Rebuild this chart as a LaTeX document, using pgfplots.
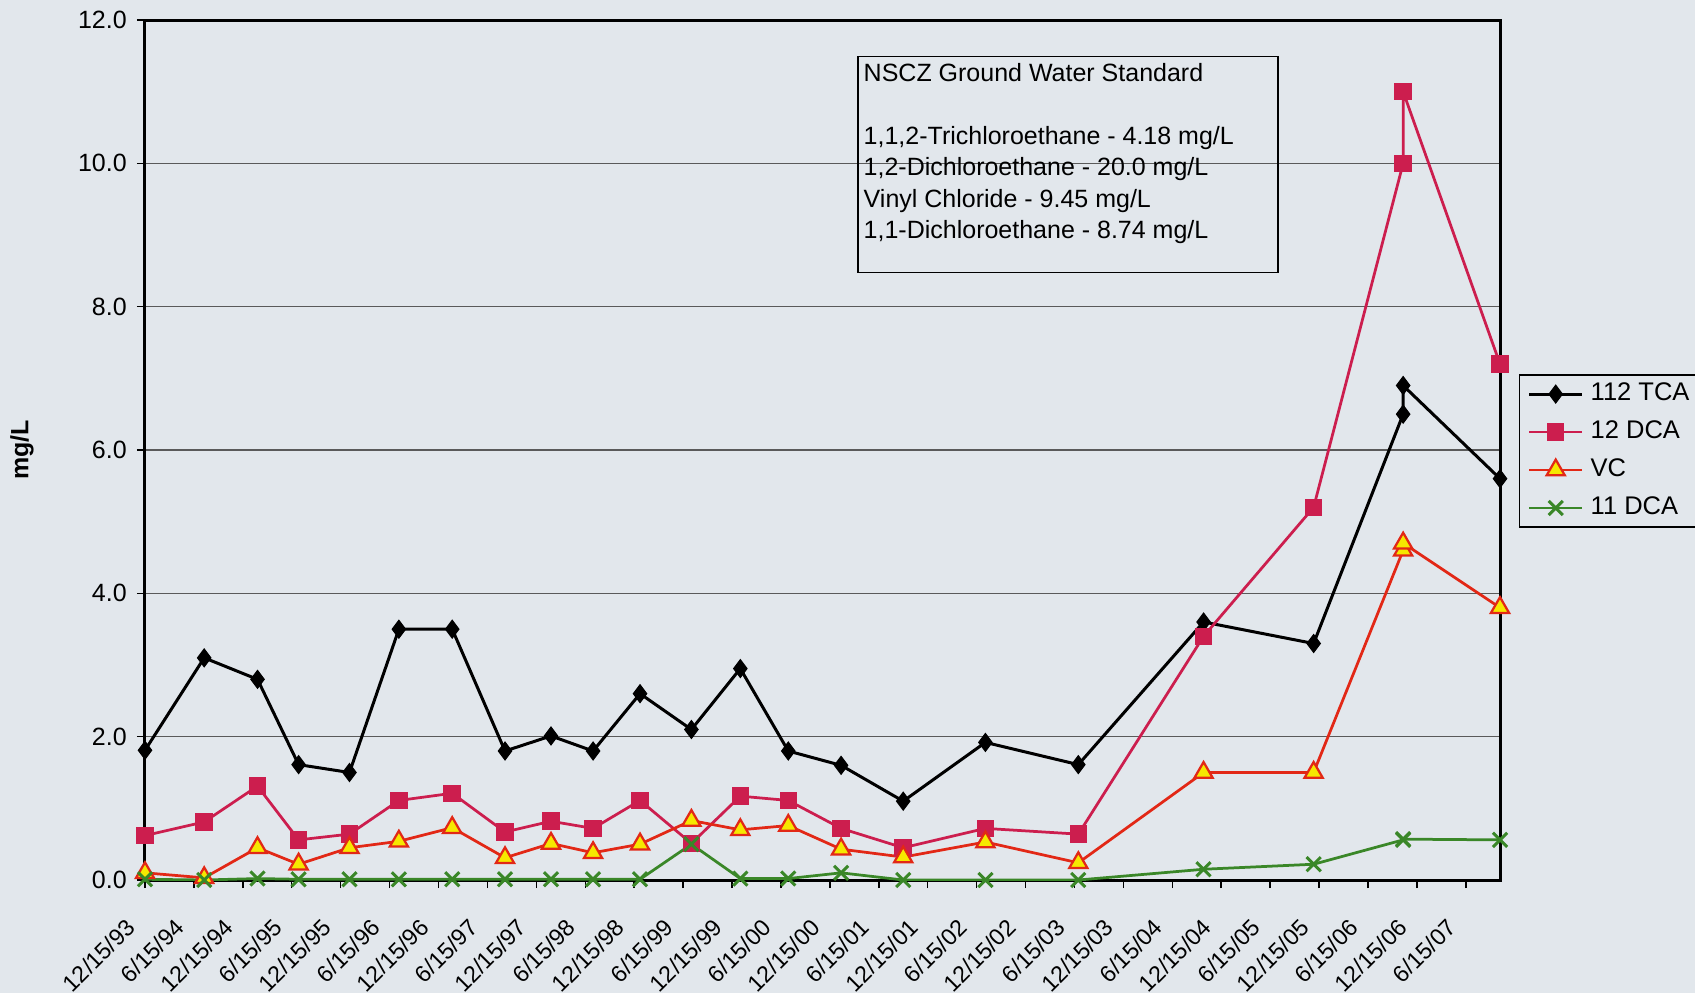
\documentclass[border=0pt]{standalone}
\usepackage{fontspec}
\setmainfont{Liberation Sans}
\usepackage{pgfplots}
\pgfplotsset{compat=1.18}
\definecolor{bg}{RGB}{226,231,236}
\definecolor{dcaA}{RGB}{204,30,78}
\definecolor{vcred}{RGB}{226,40,22}
\definecolor{vcyel}{RGB}{246,232,0}
\definecolor{dcaB}{RGB}{58,135,40}
\definecolor{gridc}{RGB}{90,90,90}

\begin{document}
\begin{tikzpicture}
\fill[bg] (-58pt,-45.2pt) rectangle (620pt,352pt);
\path[use as bounding box] (-58pt,-45.2pt) rectangle (620pt,352pt);
\begin{axis}[
  at={(0pt,0pt)}, anchor=south west,
  scale only axis, width=542pt, height=344pt,
  xmin=0, xmax=27.7, ymin=0, ymax=12,
  xtick={0,...,27},
  xticklabels={12/15/93,6/15/94,12/15/94,6/15/95,12/15/95,6/15/96,12/15/96,6/15/97,12/15/97,6/15/98,12/15/98,6/15/99,12/15/99,6/15/00,12/15/00,6/15/01,12/15/01,6/15/02,12/15/02,6/15/03,12/15/03,6/15/04,12/15/04,6/15/05,12/15/05,6/15/06,12/15/06,6/15/07},
  ytick={0,2,...,12},
  xtick pos=bottom, ytick pos=left,
  tick align=outside,
  major tick length=3.2pt,
  tick style={black, line width=0.6pt},
  axis line style={black, line width=1.2pt},
  ymajorgrids,
  major grid style={gridc, line width=0.6pt},
  /pgf/number format/assume math mode=true,
  tick label style={font=\fontsize{10}{12}\selectfont},
  yticklabel style={/pgf/number format/fixed, /pgf/number format/fixed zerofill, /pgf/number format/precision=1, xshift=-0.6pt},
  xticklabel style={xshift=-5.5pt, yshift=-14pt, rotate=45, anchor=east, inner sep=0pt, font=\fontsize{9.3}{11}\selectfont},
  ylabel={mg/L},
  ylabel style={at={(axis description cs:-0.0908,0.5)}, anchor=center, font=\bfseries\fontsize{10}{12}\selectfont},
  legend style={at={(axis description cs:1.014,0.588)}, anchor=north west, draw=black, line width=0.6pt, fill=none,
    inner xsep=3.2pt, inner ysep=0pt, font=\fontsize{10.2}{12}\selectfont,
    nodes={inner xsep=0pt, inner ysep=2.6pt, text height=7.5pt, text depth=2.5pt},
    /tikz/every odd column/.append style={column sep=2.8pt}},
  legend cell align=left,
  legend image code/.code={\draw[mark repeat=2,mark phase=2] plot coordinates {(0pt,0pt) (10.6pt,0pt) (21.2pt,0pt)};},
]
\addplot[black, line width=1.2pt, mark=diamond*, mark size=3.6pt, mark options={fill=black, line width=0.4pt}] coordinates {
(0,1.81) (1.21,3.10) (2.30,2.80) (3.14,1.61) (4.18,1.50) (5.19,3.50) (6.28,3.50) (7.36,1.80) (8.30,2.01) (9.16,1.80) (10.12,2.60) (11.17,2.10) (12.17,2.95) (13.15,1.80) (14.23,1.60) (15.50,1.10) (17.18,1.92) (19.08,1.61) (21.64,3.60) (23.89,3.30) (25.72,6.50) (25.72,6.90) (27.7,5.60)};
\addlegendentry{112 TCA}
\addplot[dcaA, line width=1.1pt, mark=square*, mark size=3.3pt, mark options={fill=dcaA, line width=0.4pt}] coordinates {
(0,0.62) (1.21,0.81) (2.30,1.31) (3.14,0.56) (4.18,0.64) (5.19,1.11) (6.28,1.21) (7.36,0.67) (8.30,0.82) (9.16,0.72) (10.12,1.11) (11.17,0.51) (12.17,1.17) (13.15,1.11) (14.23,0.72) (15.50,0.45) (17.18,0.72) (19.08,0.64) (21.64,3.40) (23.89,5.20) (25.72,10.0) (25.72,11.0) (27.7,7.20)};
\addlegendentry{12 DCA}
\addplot[vcred, line width=1.1pt, mark=triangle*, mark size=4.2pt, mark options={fill=vcyel, draw=vcred, line width=0.9pt}] coordinates {
(0,0.10) (1.21,0.03) (2.30,0.45) (3.14,0.22) (4.18,0.45) (5.19,0.54) (6.28,0.73) (7.36,0.31) (8.30,0.51) (9.16,0.38) (10.12,0.50) (11.17,0.83) (12.17,0.70) (13.15,0.76) (14.23,0.43) (15.50,0.32) (17.18,0.53) (19.08,0.24) (21.64,1.50) (23.89,1.50) (25.72,4.60) (25.72,4.70) (27.7,3.80)};
\addlegendentry{VC}
\addplot[dcaB, line width=1.1pt, mark=x, mark size=4pt, mark options={line width=1.2pt}] coordinates {
(0,0.01) (1.21,0.0) (2.30,0.02) (3.14,0.01) (4.18,0.01) (5.19,0.01) (6.28,0.01) (7.36,0.01) (8.30,0.01) (9.16,0.01) (10.12,0.01) (11.17,0.50) (12.17,0.02) (13.15,0.02) (14.23,0.10) (15.50,0.0) (17.18,0.0) (19.08,0.0) (21.64,0.15) (23.89,0.22) (25.72,0.56) (25.72,0.57) (27.7,0.56)};
\addlegendentry{11 DCA}
\node[draw=black, line width=0.6pt, anchor=north west, minimum width=168pt, minimum height=86.4pt, inner sep=0pt] at (axis cs:14.56,11.5) {};
\node[anchor=north west, align=left, inner sep=0pt, xshift=2.4pt, yshift=-2.7pt, font=\fontsize{10}{12.6}\selectfont] at (axis cs:14.56,11.5) {NSCZ Ground Water Standard\\[12.6pt]1,1,2-Trichloroethane - 4.18 mg/L\\1,2-Dichloroethane - 20.0 mg/L\\Vinyl Chloride - 9.45 mg/L\\1,1-Dichloroethane - 8.74 mg/L};
\end{axis}
\end{tikzpicture}
\end{document}
